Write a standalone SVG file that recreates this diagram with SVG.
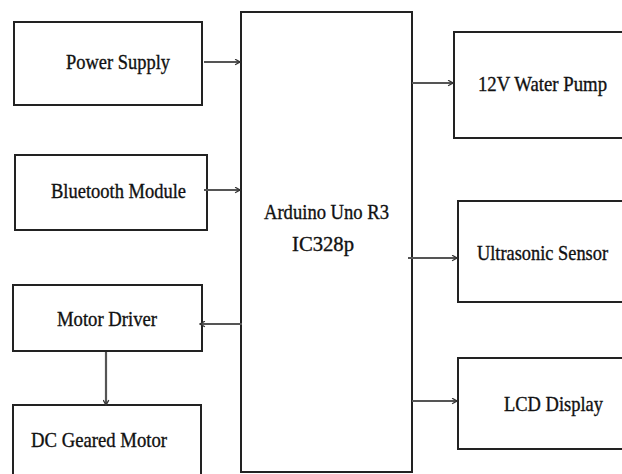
<svg xmlns="http://www.w3.org/2000/svg" width="622" height="474" viewBox="0 0 622 474">
<style>
.box{fill:#fff;stroke:#222;stroke-width:2}
.lbl{font-family:"Liberation Serif","Times New Roman",serif;font-size:21px;fill:#111;stroke:#111;stroke-width:0.35;font-weight:normal}
.conn{stroke:#555;stroke-width:2.2;fill:none;marker-end:url(#ah)}
</style>
<defs>
<marker id="ah" viewBox="0 0 10 10" refX="9" refY="5" markerWidth="7" markerHeight="7" markerUnits="userSpaceOnUse" orient="auto">
<path d="M2,1 L9,5 L2,9" fill="none" stroke="#333" stroke-width="1.8"/>
</marker>
</defs>
<rect width="622" height="474" fill="#fff"/>
<g id="arduino"><rect class="box" x="241" y="12" width="171" height="460"/>
<text class="lbl" x="264" y="219" textLength="125" lengthAdjust="spacingAndGlyphs">Arduino Uno R3</text>
<text class="lbl" x="292" y="251" textLength="62" lengthAdjust="spacingAndGlyphs">IC328p</text></g>
<g id="power"><rect class="box" x="14" y="22" width="188" height="83"/>
<text class="lbl" x="66" y="69" textLength="104" lengthAdjust="spacingAndGlyphs">Power Supply</text></g>
<g id="bluetooth"><rect class="box" x="15" y="155" width="192" height="75"/>
<text class="lbl" x="51" y="198" textLength="135" lengthAdjust="spacingAndGlyphs">Bluetooth Module</text></g>
<g id="motordriver"><rect class="box" x="13" y="285" width="189" height="66"/>
<text class="lbl" x="57" y="326" textLength="100" lengthAdjust="spacingAndGlyphs">Motor Driver</text></g>
<g id="dcmotor"><rect class="box" x="13" y="405" width="188" height="80"/>
<text class="lbl" x="31" y="447" textLength="136" lengthAdjust="spacingAndGlyphs">DC Geared Motor</text></g>
<g id="pump"><rect class="box" x="454" y="32" width="180" height="106"/>
<text class="lbl" x="478" y="91" textLength="129" lengthAdjust="spacingAndGlyphs">12V Water Pump</text></g>
<g id="ultrasonic"><rect class="box" x="458" y="201" width="176" height="101"/>
<text class="lbl" x="477" y="260" textLength="131" lengthAdjust="spacingAndGlyphs">Ultrasonic Sensor</text></g>
<g id="lcd"><rect class="box" x="458" y="358" width="176" height="91"/>
<text class="lbl" x="504" y="411" textLength="99" lengthAdjust="spacingAndGlyphs">LCD Display</text></g>
<g id="connectors">
<line class="conn" x1="204" y1="62" x2="240" y2="62"/>
<line class="conn" x1="204" y1="190" x2="240" y2="190"/>
<line class="conn" x1="412" y1="83" x2="453" y2="83"/>
<line class="conn" x1="408" y1="258" x2="457" y2="258"/>
<line class="conn" x1="412" y1="401" x2="457" y2="401"/>
<line class="conn" x1="242" y1="324" x2="200" y2="324"/>
<line class="conn" x1="106" y1="352" x2="106" y2="405"/>
</g>
</svg>
